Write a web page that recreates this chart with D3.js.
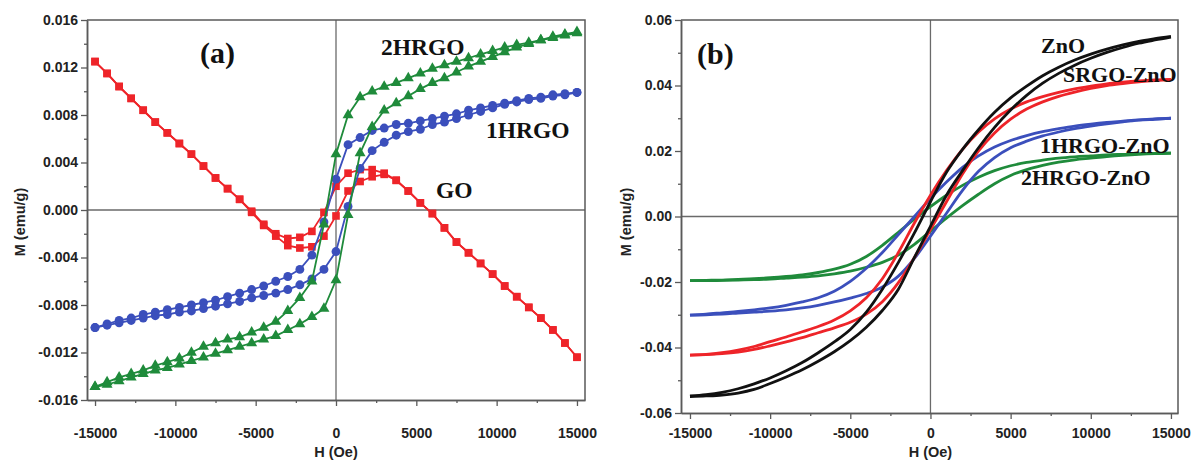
<!DOCTYPE html>
<html>
<head>
<meta charset="utf-8">
<script src="https://cdn.jsdelivr.net/npm/d3@7"></script>
<style>
	body { margin: 0; background: #fff; }
	svg { display: block; }
	.tick text { font-family: "Liberation Sans", Arial, sans-serif; font-weight: bold; font-size: 14px; fill: #222; }
	.axisTitle { font-family: "Liberation Sans", Arial, sans-serif; font-weight: bold; font-size: 14.5px; fill: #222; }
	.lbl { font-family: "Liberation Serif", "Times New Roman", serif; font-weight: bold; fill: #111; }
</style>
</head>
<body>
<svg id="chart" width="1195" height="462"></svg>
<script>
// ---- panel (a) data: H steps of 750 Oe, descending (from +H) and ascending (from -H) branches
var fieldA = [-15000,-14250,-13500,-12750,-12000,-11250,-10500,-9750,-9000,-8250,-7500,-6750,-6000,-5250,-4500,-3750,-3000,-2250,-1500,-750,
	0,750,1500,2250,3000,3750,4500,5250,6000,6750,7500,8250,9000,9750,10500,11250,12000,12750,13500,14250,15000];

var goDown = [0.0125,0.0115,0.0104,0.0094,0.0084,0.0074,0.0065,0.0056,0.0047,0.0037,0.0027,0.0018,0.0009,-0.0001,-0.0012,-0.0020,-0.0024,-0.0023,-0.0018,-0.0002,
	0.0020,0.0031,0.0034,0.0034,0.0031,0.0025,0.0016,0.0006,-0.0003,-0.0015,-0.0027,-0.0036,-0.0045,-0.0054,-0.0064,-0.0073,-0.0082,-0.0091,-0.0101,-0.0112,-0.0124];
var goUp = [0.0125,0.0115,0.0104,0.0094,0.0084,0.0074,0.0065,0.0056,0.0047,0.0037,0.0027,0.0018,0.0009,-0.0002,-0.0013,-0.0022,-0.0030,-0.0032,-0.0031,-0.0022,
	-0.0005,0.0016,0.0024,0.0028,0.0030,0.0025,0.0016,0.0006,-0.0003,-0.0015,-0.0027,-0.0036,-0.0045,-0.0054,-0.0064,-0.0073,-0.0082,-0.0091,-0.0101,-0.0112,-0.0124];

var hrgo1Down = [-0.0099,-0.0096,-0.0093,-0.0091,-0.0088,-0.0086,-0.0084,-0.0082,-0.0080,-0.0078,-0.0076,-0.0073,-0.0070,-0.0067,-0.0064,-0.0060,-0.0056,-0.0050,-0.0038,-0.0010,
	0.0026,0.0055,0.0061,0.0067,0.0069,0.0072,0.0073,0.0075,0.0077,0.0079,0.0081,0.0084,0.0086,0.0088,0.0090,0.0092,0.0094,0.0095,0.0097,0.0098,0.0099];
var hrgo1Up = [-0.0099,-0.0097,-0.0095,-0.0093,-0.0091,-0.0089,-0.0088,-0.0086,-0.0085,-0.0083,-0.0081,-0.0079,-0.0077,-0.0074,-0.0072,-0.0070,-0.0067,-0.0063,-0.0058,-0.0050,
	-0.0035,0.0003,0.0035,0.0050,0.0057,0.0063,0.0066,0.0068,0.0072,0.0074,0.0077,0.0080,0.0083,0.0086,0.0089,0.0091,0.0093,0.0094,0.0096,0.0097,0.0099];

var hrgo2Down = [-0.0149,-0.0145,-0.0141,-0.0138,-0.0135,-0.0131,-0.0128,-0.0125,-0.0120,-0.0115,-0.0112,-0.0109,-0.0107,-0.0103,-0.0099,-0.0094,-0.0085,-0.0074,-0.0060,-0.0012,
	0.0047,0.0080,0.0095,0.0100,0.0104,0.0107,0.0111,0.0115,0.0119,0.0122,0.0125,0.0128,0.0131,0.0134,0.0137,0.0139,0.0141,0.0143,0.0146,0.0148,0.0150];
var hrgo2Up = [-0.0149,-0.0147,-0.0144,-0.0141,-0.0138,-0.0135,-0.0133,-0.0130,-0.0127,-0.0124,-0.0121,-0.0118,-0.0115,-0.0112,-0.0109,-0.0106,-0.0101,-0.0096,-0.0090,-0.0083,
	-0.0059,-0.0004,0.0048,0.0070,0.0084,0.0090,0.0096,0.0102,0.0107,0.0111,0.0116,0.0121,0.0125,0.0129,0.0133,0.0137,0.0140,0.0143,0.0145,0.0147,0.0149];

// ---- panel (b) data: H steps of 1000 Oe
var fieldB = [-15000,-14000,-13000,-12000,-11000,-10000,-9000,-8000,-7000,-6000,-5000,-4000,-3000,-2000,-1000,
	0,1000,2000,3000,4000,5000,6000,7000,8000,9000,10000,11000,12000,13000,14000,15000];

var znoDown = [-0.0548,-0.0544,-0.0537,-0.0526,-0.0511,-0.0493,-0.0471,-0.0446,-0.0416,-0.0383,-0.0345,-0.0292,-0.0222,-0.0140,-0.0050,
	0.0045,0.0135,0.0205,0.0265,0.0318,0.0362,0.0398,0.0430,0.0456,0.0478,0.0496,0.0511,0.0524,0.0535,0.0543,0.0550];
var znoUp = [-0.0550,-0.0548,-0.0545,-0.0539,-0.0528,-0.0510,-0.0490,-0.0468,-0.0442,-0.0413,-0.0379,-0.0338,-0.0287,-0.0222,-0.0125,
	-0.0030,0.0065,0.0140,0.0210,0.0272,0.0325,0.0370,0.0407,0.0437,0.0462,0.0483,0.0501,0.0516,0.0529,0.0539,0.0548];

var srgoDown = [-0.0423,-0.0421,-0.0416,-0.0408,-0.0397,-0.0382,-0.0368,-0.0352,-0.0336,-0.0316,-0.0288,-0.0248,-0.0190,-0.0110,-0.0020,
	0.0065,0.0140,0.0205,0.0258,0.0298,0.0328,0.0350,0.0366,0.0379,0.0390,0.0398,0.0405,0.0410,0.0414,0.0417,0.0419];
var srgoUp = [-0.0423,-0.0422,-0.0419,-0.0414,-0.0406,-0.0395,-0.0383,-0.0370,-0.0355,-0.0340,-0.0323,-0.0298,-0.0260,-0.0202,-0.0125,
	-0.0040,0.0045,0.0130,0.0200,0.0255,0.0297,0.0328,0.0350,0.0367,0.0380,0.0391,0.0400,0.0406,0.0411,0.0415,0.0418];

var hrgo1ZnDown = [-0.0301,-0.0298,-0.0294,-0.0290,-0.0285,-0.0279,-0.0271,-0.0261,-0.0248,-0.0228,-0.0198,-0.0158,-0.0110,-0.0055,0.0000,
	0.0055,0.0105,0.0150,0.0185,0.0212,0.0232,0.0247,0.0259,0.0268,0.0276,0.0282,0.0287,0.0291,0.0295,0.0298,0.0300];
var hrgo1ZnUp = [-0.0301,-0.0300,-0.0298,-0.0295,-0.0292,-0.0289,-0.0285,-0.0279,-0.0271,-0.0261,-0.0249,-0.0235,-0.0215,-0.0182,-0.0128,
	-0.0060,0.0010,0.0080,0.0138,0.0180,0.0210,0.0230,0.0246,0.0258,0.0268,0.0276,0.0283,0.0289,0.0294,0.0297,0.0300];

var hrgo2ZnDown = [-0.0196,-0.0195,-0.0194,-0.0192,-0.0190,-0.0187,-0.0183,-0.0178,-0.0171,-0.0161,-0.0146,-0.0122,-0.0088,-0.0048,-0.0008,
	0.0030,0.0065,0.0095,0.0120,0.0140,0.0155,0.0165,0.0172,0.0178,0.0182,0.0185,0.0188,0.0190,0.0192,0.0193,0.0194];
var hrgo2ZnUp = [-0.0196,-0.0196,-0.0195,-0.0194,-0.0193,-0.0191,-0.0188,-0.0185,-0.0181,-0.0175,-0.0167,-0.0155,-0.0140,-0.0118,-0.0085,
	-0.0045,-0.0005,0.0033,0.0068,0.0100,0.0125,0.0143,0.0156,0.0166,0.0173,0.0178,0.0183,0.0187,0.0190,0.0192,0.0193];

// ---- ticks
var xTicks = [-15000,-10000,-5000,0,5000,10000,15000];
var xMinor = [-12500,-7500,-2500,2500,7500,12500];
var yTicksA = [-0.016,-0.012,-0.008,-0.004,0,0.004,0.008,0.012,0.016];
var yMinorA = [-0.014,-0.010,-0.006,-0.002,0.002,0.006,0.010,0.014];
var yTicksB = [-0.06,-0.04,-0.02,0,0.02,0.04,0.06];
var yMinorB = [-0.05,-0.03,-0.01,0.01,0.03,0.05];

var colors = {red:"#ee2429", blue:"#3b4fbc", green:"#1f8b3b", black:"#111111", axis:"#5a5a5a"};

var svg = d3.select("#chart");

function drawPanel(p){
	/*
		draws frame, zero lines, axes and titles of one panel, returns the scales
	*/
	var x = d3.scaleLinear().domain(p.xDomain).range([p.left, p.right]);
	var y = d3.scaleLinear().domain(p.yDomain).range([p.bottom, p.top]);
	var g = svg.append("g");

	// zero lines
	g.append("line").attr("x1",p.left).attr("x2",p.right).attr("y1",y(0)).attr("y2",y(0))
		.attr("stroke","#6a6a6a").attr("stroke-width",1.3);
	g.append("line").attr("x1",x(0)).attr("x2",x(0)).attr("y1",p.top).attr("y2",p.bottom)
		.attr("stroke","#6a6a6a").attr("stroke-width",1.3);

	g.append("g").attr("transform","translate(0,"+p.bottom+")")
		.call(d3.axisBottom(x).tickValues(xTicks).tickSize(6).tickSizeOuter(0).tickPadding(p.xPad)
			.tickFormat(function(d){ return String(d); }));
	g.append("g").attr("transform","translate(0,"+p.bottom+")")
		.call(d3.axisBottom(x).tickValues(xMinor).tickSize(3).tickSizeOuter(0).tickFormat(""));
	g.append("g").attr("transform","translate("+p.left+",0)")
		.call(d3.axisLeft(y).tickValues(p.yTicks).tickSize(6).tickSizeOuter(0).tickPadding(3)
			.tickFormat(function(d){ return d.toFixed(p.digits); }));
	g.append("g").attr("transform","translate("+p.left+",0)")
		.call(d3.axisLeft(y).tickValues(p.yMinor).tickSize(3).tickSizeOuter(0).tickFormat(""));
	g.selectAll(".domain").attr("stroke",colors.axis).attr("stroke-width",1.5);
	g.selectAll(".tick line").attr("stroke",colors.axis).attr("stroke-width",1.3);

	// frame top/right
	g.append("path")
		.attr("d","M"+p.left+","+p.top+"H"+p.right+"V"+p.bottom)
		.attr("fill","none").attr("stroke",colors.axis).attr("stroke-width",1.5);

	g.append("text").attr("class","axisTitle")
		.attr("x",x(0)).attr("y",457).attr("text-anchor","middle").text("H (Oe)");
	g.append("text").attr("class","axisTitle")
		.attr("transform","translate("+p.yTitleX+","+p.yTitleY+") rotate(-90)")
		.attr("text-anchor","middle").text("M (emu/g)");
	g.append("text").attr("class","lbl").style("font-size","30px")
		.attr("x",p.tagX).attr("y",p.tagY).text(p.tag);
	return {x:x, y:y, g:g};
}

// ---------- panel (a)
var pa = drawPanel({left:87, right:585, top:20, bottom:400, xDomain:[-15500,15500], yDomain:[-0.016,0.016],
	yTicks:yTicksA, yMinor:yMinorA, digits:3, xPad:22, yTitleX:25, yTitleY:222, tag:"(a)", tagX:200, tagY:63});

var seriesA = [
	{name:"GO", color:colors.red, symbol:d3.symbolSquare, size:58, branches:[goDown, goUp]},
	{name:"1HRGO", color:colors.blue, symbol:d3.symbolCircle, size:62, branches:[hrgo1Down, hrgo1Up]},
	{name:"2HRGO", color:colors.green, symbol:d3.symbolTriangle, size:52, branches:[hrgo2Down, hrgo2Up]}
];
var lineA = d3.line().x(function(d){ return pa.x(d[0]); }).y(function(d){ return pa.y(d[1]); });
seriesA.forEach(function(s){
	s.branches.forEach(function(vals){
		var pts = fieldA.map(function(h,i){ return [h, vals[i]]; });
		pa.g.append("path").datum(pts).attr("d",lineA)
			.attr("fill","none").attr("stroke",s.color).attr("stroke-width",1.8);
		pa.g.selectAll(null).data(pts).enter().append("path")
			.attr("d",d3.symbol().type(s.symbol).size(s.size))
			.attr("transform",function(d){ return "translate("+pa.x(d[0])+","+pa.y(d[1])+")"; })
			.attr("fill",s.color);
	});
});
var labelsA = [
	{text:"2HRGO", x:381, y:55},
	{text:"1HRGO", x:486, y:138},
	{text:"GO", x:436, y:198}
];
pa.g.selectAll(null).data(labelsA).enter().append("text").attr("class","lbl")
	.style("font-size","23.5px").attr("x",function(d){ return d.x; }).attr("y",function(d){ return d.y; })
	.text(function(d){ return d.text; });

// ---------- panel (b)
var pb = drawPanel({left:681, right:1178, top:20, bottom:413, xDomain:[-15560,15440], yDomain:[-0.06,0.06],
	yTicks:yTicksB, yMinor:yMinorB, digits:2, xPad:9, yTitleX:631, yTitleY:222, tag:"(b)", tagX:697, tagY:64});

var seriesB = [
	{name:"2HRGO-ZnO", color:colors.green, branches:[hrgo2ZnDown, hrgo2ZnUp]},
	{name:"1HRGO-ZnO", color:colors.blue, branches:[hrgo1ZnDown, hrgo1ZnUp]},
	{name:"SRGO-ZnO", color:colors.red, branches:[srgoDown, srgoUp]},
	{name:"ZnO", color:colors.black, branches:[znoDown, znoUp]}
];
var lineB = d3.line().curve(d3.curveMonotoneX)
	.x(function(d){ return pb.x(d[0]); }).y(function(d){ return pb.y(d[1]); });
seriesB.forEach(function(s){
	s.branches.forEach(function(vals){
		var pts = fieldB.map(function(h,i){ return [h, vals[i]]; });
		pb.g.append("path").datum(pts).attr("d",lineB)
			.attr("fill","none").attr("stroke",s.color).attr("stroke-width",2.8);
	});
});
var labelsB = [
	{text:"ZnO", x:1041, y:53},
	{text:"SRGO-ZnO", x:1063, y:82},
	{text:"1HRGO-ZnO", x:1040, y:153},
	{text:"2HRGO-ZnO", x:1021, y:185}
];
pb.g.selectAll(null).data(labelsB).enter().append("text").attr("class","lbl")
	.style("font-size","22px").attr("x",function(d){ return d.x; }).attr("y",function(d){ return d.y; })
	.text(function(d){ return d.text; });
</script>
</body>
</html>
